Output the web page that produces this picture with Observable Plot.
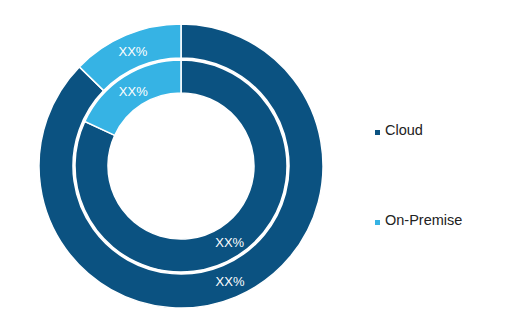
<!DOCTYPE html>
<html><head><meta charset="utf-8">
<script src="https://cdn.jsdelivr.net/npm/d3@7"></script>
<script src="https://cdn.jsdelivr.net/npm/@observablehq/plot@0.6"></script>
<style>
body{margin:0;background:#fff;font-family:"Liberation Sans",Arial,sans-serif}
#wrap{position:relative;width:527px;height:336px}
svg{display:block}
.leg{position:absolute;left:375px;font-size:14.5px;line-height:15px;color:#222;white-space:nowrap}
.leg i{position:absolute;left:0;width:5px;height:5px}
.leg span{position:absolute;left:10px;top:0}
</style>
</head><body><div id="wrap"></div>
<script>
const categories = ["Cloud", "On-Premise"];
const outerValues = [87.3, 12.7];
const innerValues = [81.9, 18.1];
const sliceLabels = ["XX%", "XX%"];
const colors = ["#0b5281", "#36b3e4"];

// layout (pixels)
const cx = 181, cy = 166, W = 527, H = 336;
const rings = [
  {ring: "outer", values: outerValues, r0: 108, r1: 142},
  {ring: "inner", values: innerValues, r0: 73, r1: 106}
];

const pie = d3.pie().sort(null).value(d => d.value);
const slices = rings.flatMap(r =>
  pie(categories.map((c, i) => ({category: c, value: r.values[i], label: sliceLabels[i]})))
    .map(a => {
      const c = d3.arc().innerRadius(r.r0).outerRadius(r.r1).centroid(a);
      return {startAngle: a.startAngle, endAngle: a.endAngle, category: a.data.category,
              label: a.data.label, r0: r.r0, r1: r.r1, lx: c[0], ly: c[1]};
    })
);

const color = d3.scaleOrdinal(categories, colors);

function arcs(index, scales) {
  const x = scales.x, y = scales.y;
  const k = Math.abs(x(1) - x(0));
  const g = d3.create("svg:g").attr("transform", `translate(${x(0)},${y(0)})`);
  const arc = d3.arc();
  g.selectAll("path").data(slices).join("path")
    .attr("d", d => arc({innerRadius: d.r0 * k, outerRadius: d.r1 * k, startAngle: d.startAngle, endAngle: d.endAngle}))
    .attr("fill", d => color(d.category))
    .attr("stroke", "#fff")
    .attr("stroke-width", 1.5)
    .attr("stroke-linejoin", "miter");
  return g.node();
}

const plot = Plot.plot({
  width: W, height: H,
  margin: 0,
  x: {domain: [-cx, W - cx], range: [0, W], axis: null},
  y: {domain: [-cy, H - cy], range: [0, H], axis: null},
  style: {fontFamily: "'Liberation Sans', Arial, sans-serif", background: "#fff"},
  marks: [
    arcs,
    Plot.text(slices, {x: "lx", y: "ly", text: "label", fill: "#fff", fontSize: 13, dy: 0.5})
  ]
});
const wrap = document.getElementById("wrap");
wrap.appendChild(plot);

const legendTops = [122.5, 212.5];
categories.forEach((c, i) => {
  const d = document.createElement("div");
  d.className = "leg";
  d.style.top = legendTops[i] + "px";
  d.innerHTML = `<i style="background:${colors[i]};top:7px"></i><span>${c}</span>`;
  wrap.appendChild(d);
});
</script>
</body></html>
